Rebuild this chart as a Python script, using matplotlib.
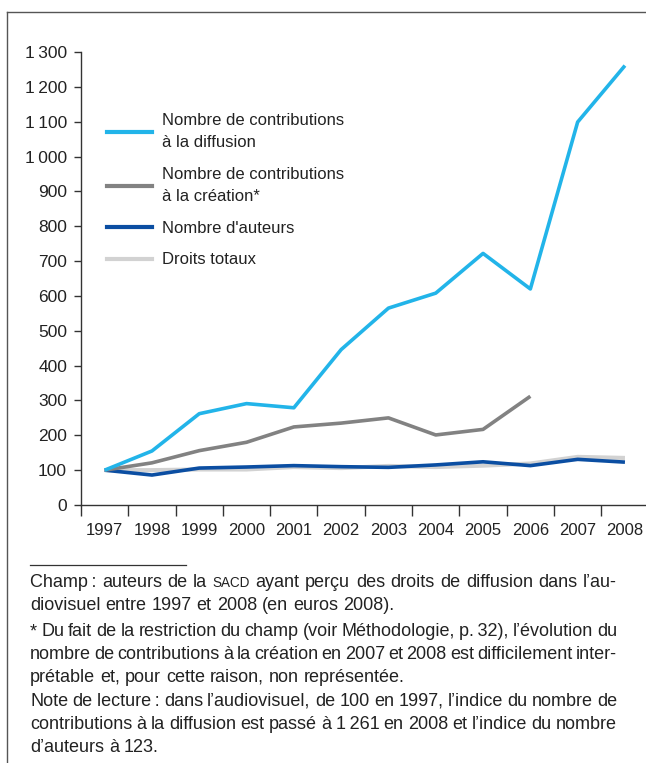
import matplotlib
matplotlib.use('Agg')
import matplotlib.pyplot as plt
from matplotlib.lines import Line2D
from matplotlib.ticker import FixedLocator, FuncFormatter

# data (index 1997 = 100)
years = ['1997', '1998', '1999', '2000', '2001', '2002', '2003', '2004', '2005', '2006', '2007', '2008']
diffusion = [100, 155, 262, 291, 279, 446, 565, 608, 722, 620, 1099, 1261]
creation = [100, 121, 156, 180, 224, 235, 250, 201, 217, 312]  # stops in 2006
auteurs = [100, 86, 106, 109, 113, 110, 108, 115, 124, 113, 131, 123]
droits = [100, 100, 102, 102, 109, 106, 112, 109, 113, 119, 138, 135]
yticks = [0, 100, 200, 300, 400, 500, 600, 700, 800, 900, 1000, 1100, 1200, 1300]

labels = ['Nombre de contributions\nà la diffusion',
          'Nombre de contributions\nà la création*',
          "Nombre d'auteurs",
          'Droits totaux']
colors = ['#22b4e9', '#828282', '#0b4ea2', '#d2d2d2']

plt.rcParams['font.family'] = ['Liberation Sans', 'DejaVu Sans']

W, H = 646, 763
fig = plt.figure(figsize=(W / 100, H / 100), dpi=100)

def fx(px):
    return px / W

def fy(py):
    return 1 - py / H

ax = fig.add_axes([fx(81), fy(505), (47.3 * 12) / W, (505 - 52) / H])

x = list(range(len(years)))
# light gray first so the dark blue sits above it
ax.plot(x, droits, color=colors[3], lw=3.0, solid_capstyle='butt', zorder=2)
ax.plot(x, auteurs, color=colors[2], lw=2.6, solid_capstyle='butt', zorder=3)
ax.plot(x[:len(creation)], creation, color=colors[1], lw=2.6, solid_capstyle='butt', zorder=3)
ax.plot(x, diffusion, color=colors[0], lw=2.6, solid_capstyle='butt', zorder=4)

ax.set_xlim(-0.5, 11.5)
ax.set_ylim(0, 1300)

for s in ['top', 'right']:
    ax.spines[s].set_visible(False)
for s in ['left', 'bottom']:
    ax.spines[s].set_linewidth(1.0)
    ax.spines[s].set_color('#333333')

ax.yaxis.set_major_locator(FixedLocator(yticks))
ax.yaxis.set_major_formatter(FuncFormatter(lambda v, p: f'{int(v):,}'.replace(',', '\u2009')))
ax.tick_params(axis='y', direction='out', length=5, width=1.0, color='#333333',
               labelsize=12.5, labelcolor='#222222', pad=5)

ax.set_xticks(x)
ax.set_xticklabels(years)
ax.set_xticks([i - 0.5 for i in range(len(years) + 1)], minor=True)
ax.tick_params(axis='x', which='major', length=0, labelsize=12, labelcolor='#222222', pad=13)
ax.tick_params(axis='x', which='minor', direction='out', length=8, width=1.0, color='#333333')

handles = [Line2D([0], [0], color=c, lw=3.0) for c in colors]
leg = ax.legend(handles, labels, loc='upper left', bbox_to_anchor=(fx(107), fy(113)),
                bbox_transform=fig.transFigure, frameon=False, fontsize=12,
                handlelength=2.7, handletextpad=0.6, labelspacing=1.0,
                borderpad=0, borderaxespad=0)
for t in leg.get_texts():
    t.set_color('#222222')
    t.set_linespacing(1.6)

# frame around the figure (top and left sides)
fig.add_artist(Line2D([fx(7), 1.0], [fy(12), fy(12)], color='#555555', lw=1.0))
fig.add_artist(Line2D([fx(7), fx(7)], [fy(12), 0.0], color='#555555', lw=1.0))
# short separator above the notes
fig.add_artist(Line2D([fx(30), fx(186)], [fy(565), fy(565)], color='#333333', lw=0.9))

# notes, set line by line, justified like the source
renderer = fig.canvas.get_renderer()
left, right = 30, 617
fs = 13.0

def measure(word, size):
    t = fig.text(0, 0, word, fontsize=size)
    w = t.get_window_extent(renderer).width
    t.remove()
    return w

def put_line(py, runs, justify):
    # runs: list of (word, size)
    widths = [measure(w, s) for w, s in runs]
    space = measure('a a', fs) - measure('aa', fs)
    gaps = len(runs) - 1
    if justify and gaps > 0:
        space = max((right - left - sum(widths)) / gaps, 1.5)
    xpos = left
    for (w, s), wd in zip(runs, widths):
        fig.text(fx(xpos), fy(py), w, fontsize=s, color='#222222', va='baseline')
        xpos += wd + space

def words(s):
    return [(w, fs) for w in s.split(' ')]

notes = [
    (587, words('Champ\u2009: auteurs de la') + [('SACD', fs * 0.75)]
     + words('ayant perçu des droits de diffusion dans l’au-'), True),
    (610, words('diovisuel entre 1997 et 2008 (en euros 2008).'), False),
    (636, words('* Du fait de la restriction du champ (voir Méthodologie, p.\u200932), l’évolution du'), True),
    (659, words('nombre de contributions à la création en 2007 et 2008 est difficilement inter-'), True),
    (682, words('prétable et, pour cette raison, non représentée.'), False),
    (706, words('Note de lecture\u2009: dans l’audiovisuel, de 100 en 1997, l’indice du nombre de'), True),
    (729, words('contributions à la diffusion est passé à 1\u2009261 en 2008 et l’indice du nombre'), True),
    (752, words('d’auteurs à 123.'), False),
]
for py, runs, just in notes:
    put_line(py, runs, just)

fig.savefig('out.png', dpi=100)
